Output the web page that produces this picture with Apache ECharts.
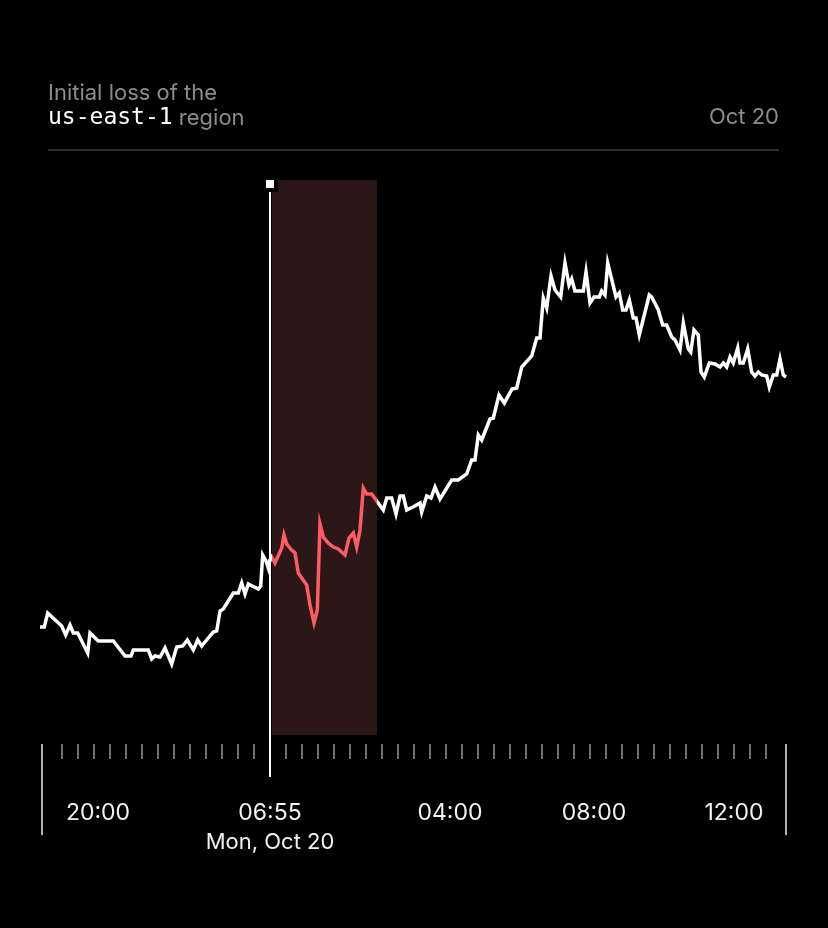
<!DOCTYPE html>
<html>
<head>
<meta charset="utf-8">
<style>
  html, body { margin: 0; padding: 0; background: #000; }
  #chart { width: 828px; height: 928px; }
</style>
<script src="https://cdn.jsdelivr.net/npm/echarts@6/dist/echarts.min.js"></script>
</head>
<body>
<div id="chart"></div>
<script>
// ---- data (x: minutes since window start, y: error level) ----
const sampleTimes = [0,4.3,7.7,21.7,25.7,30,33.3,37.7,47.7,50,58.3,73.3,85,91,93.3,108.3,111.7,115,120,125,131.7,136.7,142.7,147.3,153.3,157.7,161.7,165,173.3,176.7,180,183.3,193.3,198.3,201.7,205,208.3,218.3,220.7,222.7,226,228.3,230,231.7,235,241.7,244,246.7,251.7,255,258.3,261.7,266.7,270,274,277.3,280,283.3,288.3,293.3,298.3,305,309,313.3,316.7,320,323.3,326.7,331.7,336.7,338.3,343.3,346.7,351.7,356,360,363.3,366.7,373,380,381.7,386.7,391,395,400,411.7,418.3,426.7,431.7,435,438.3,441.7,450,453.3,459,464.3,472,476.7,481.7,491.7,496.7,500,503.3,506.7,511,515,520.7,525,529,531.7,535,543.3,546,550,554,559.3,561.7,565,567.7,576,579.3,582.7,586,589.3,593.3,596,599.3,609.3,611.7,618.3,622.7,626.7,631.7,635,640,643.3,648.3,650.7,654,658.3,661,664.3,669.3,675,680,683.3,686.7,690,693.3,697.7,700,703.3,707.7,711.7,715,718.3,721.7,726.7,729.3,733.3,736.7,740,743.3,746];
const sampleValues = [108,108,122,109,100,110,102,102,82,102,94,94,79,79,85,85,76,79,78,87,71,88,89,95,85,95,89,93,103,104,124,126,142,142,152,141,151,146,149,180,174,167,175,178,172,187,200,191,185,182,162,157,150,130,112,125,211,198,192,188,186,180,197,202,188,205,247,241,241,234,234,225,237,237,221,239,239,225,228,232,223,239,237,248,236,255,255,261,275,275,300,295,316,317,340,332,346,347,368,379,397,397,437,427,459,445,438,472,450,456,444,444,463,432,438,438,444,440,472,438,442,425,425,435,417,417,400,440,438,425,410,410,398,395,385,412,386,383,405,400,363,358,372,371,368,372,368,378,372,387,372,372,386,363,359,363,360,359,348,360,360,376,360,358];

const axisMin = 0, axisMax = 746;
const valueMin = 0, valueMax = 555;
const outageStart = 232, outageEnd = 337;   // highlighted window
const markerTime = 230;                      // 06:55 marker
const tickLabelValues = [58, 230, 410, 554, 694];
const tickLabels = ['20:00', '06:55', '04:00', '08:00', '12:00'];
const markerDateLabel = 'Mon, Oct 20';
const minorTickCount = 45;

const titleLine1 = 'Initial loss of the';
const titleMono = 'us-east-1';
const titleRest = ' region';
const dateLabel = 'Oct 20';

// ---- chart ----
const chart = echarts.init(document.getElementById('chart'), null, { renderer: 'canvas' });
const FONT = 'Inter, "Noto Sans", sans-serif';
const GRAY = '#8c8c8c';
const RED = '#ff5b63';

const data = sampleTimes.map((t, i) => [t, sampleValues[i]]);
const minorCats = Array.from({ length: minorTickCount }, (_, i) => String(i));

const option = {
  backgroundColor: '#000',
  animation: false,
  title: [
    {
      left: 48, top: 81, padding: 0,
      text: '{g|' + titleLine1 + '}\n{m|' + titleMono + '}{g|' + titleRest + '}',
      textStyle: {
        fontWeight: 'normal',
        rich: {
          g: { color: GRAY, fontFamily: FONT, fontSize: 22, fontWeight: 'normal', lineHeight: 25 },
          m: { color: '#ffffff', fontFamily: '"DejaVu Sans Mono", "Liberation Mono", monospace', fontSize: 23, fontWeight: 'normal', lineHeight: 25 }
        }
      }
    },
    {
      right: 49, top: 105, padding: 0,
      text: dateLabel,
      textStyle: { color: GRAY, fontFamily: FONT, fontSize: 22, fontWeight: 'normal', lineHeight: 25 }
    }
  ],
  graphic: [
    { type: 'line', shape: { x1: 48, y1: 150, x2: 779, y2: 150 }, style: { stroke: '#3a3a3a', lineWidth: 1.5 }, silent: true },
    { type: 'line', shape: { x1: 42, y1: 744, x2: 42, y2: 835 }, style: { stroke: '#b0b0b0', lineWidth: 2 }, silent: true },
    { type: 'line', shape: { x1: 786, y1: 744, x2: 786, y2: 835 }, style: { stroke: '#b0b0b0', lineWidth: 2 }, silent: true }
  ],
  grid: [
    { left: 40, right: 42, top: 180, bottom: 193 },          // main chart
    { left: 40, right: 42, top: 184, bottom: 151 },          // marker + labels
    { left: 54, width: 720, top: 700, bottom: 184 }          // minor ticks
  ],
  xAxis: [
    { gridIndex: 0, type: 'value', min: axisMin, max: axisMax, show: false },
    {
      gridIndex: 1, type: 'value', min: axisMin, max: axisMax,
      axisLine: { show: false }, axisTick: { show: false }, splitLine: { show: false },
      axisLabel: {
        customValues: tickLabelValues,
        formatter: (v) => {
          const i = tickLabelValues.indexOf(v);
          if (i < 0) return '';
          return tickLabelValues[i] === markerTime ? tickLabels[i] + '\n{d|' + markerDateLabel + '}' : tickLabels[i];
        },
        color: '#f2f2f2', fontFamily: FONT, fontSize: 23, lineHeight: 29, margin: 22,
        align: 'center',
        rich: { d: { color: '#f2f2f2', fontFamily: FONT, fontSize: 22, lineHeight: 28 } }
      }
    },
    {
      gridIndex: 2, type: 'category', data: minorCats, boundaryGap: true,
      axisLine: { show: false },
      axisTick: { show: true, alignWithLabel: true, interval: 0, length: 15, lineStyle: { color: '#707070', width: 2 } },
      axisLabel: { show: false }, splitLine: { show: false }
    }
  ],
  yAxis: [
    { gridIndex: 0, type: 'value', min: valueMin, max: valueMax, show: false },
    { gridIndex: 1, type: 'value', min: 0, max: 1, show: false },
    { gridIndex: 2, type: 'value', min: 0, max: 1, show: false }
  ],
  visualMap: {
    type: 'piecewise', show: false, seriesIndex: 1, dimension: 0,
    pieces: [{ gte: outageStart, lte: outageEnd, color: RED }],
    outOfRange: { color: '#ffffff' }
  },
  series: [
    {
      type: 'line', xAxisIndex: 0, yAxisIndex: 0, data: [], z: 1, silent: true,
      markArea: {
        silent: true,
        itemStyle: { color: '#2c1718' },
        data: [[{ xAxis: outageStart }, { xAxis: outageEnd }]]
      }
    },
    {
      type: 'line', xAxisIndex: 0, yAxisIndex: 0, data: data, z: 4,
      showSymbol: false, symbol: 'none', smooth: false,
      lineStyle: { width: 3.5, join: 'miter', cap: 'butt' }
    },
    {
      type: 'line', xAxisIndex: 1, yAxisIndex: 1, data: [], z: 5, silent: true,
      markLine: {
        silent: true, symbol: 'none', label: { show: false },
        lineStyle: { color: '#ffffff', width: 2, type: 'solid' },
        data: [{ xAxis: markerTime }]
      }
    },
    {
      type: 'scatter', xAxisIndex: 1, yAxisIndex: 1, z: 6, clip: false, silent: true,
      data: [[markerTime, 1]],
      symbol: 'rect', symbolSize: 16,
      itemStyle: { color: '#000000', opacity: 1 }
    },
    {
      type: 'scatter', xAxisIndex: 1, yAxisIndex: 1, z: 7, clip: false, silent: true,
      data: [[markerTime, 1]],
      symbol: 'rect', symbolSize: 8,
      itemStyle: { color: '#ffffff', opacity: 1 }
    }
  ]
};
chart.setOption(option);
</script>
</body>
</html>
